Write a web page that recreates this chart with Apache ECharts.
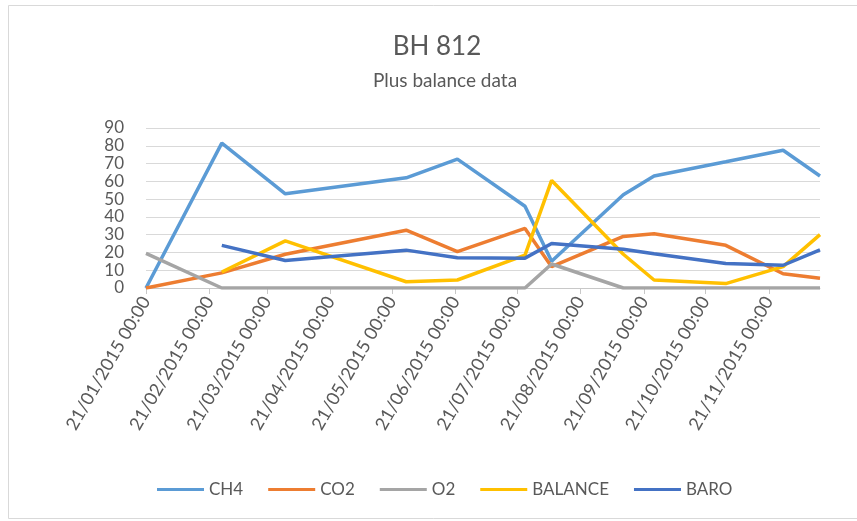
<!DOCTYPE html>
<html><head><meta charset="utf-8">
<script src="https://cdn.jsdelivr.net/npm/echarts@6/dist/echarts.min.js"></script>
<style>html,body{margin:0;padding:0;background:#fff}#c{width:857px;height:521px}</style>
</head><body><div id="c"></div>
<script>
const tickLabels = ['21/01/2015 00:00','21/02/2015 00:00','21/03/2015 00:00','21/04/2015 00:00','21/05/2015 00:00','21/06/2015 00:00','21/07/2015 00:00','21/08/2015 00:00','21/09/2015 00:00','21/10/2015 00:00','21/11/2015 00:00'];
const dates = ['2015-01-21','2015-02-27','2015-03-30','2015-05-28','2015-06-22','2015-07-25','2015-08-07','2015-09-11','2015-09-26','2015-10-31','2015-11-28','2015-12-16'];
const ch4 = [0, 81.5, 53, 62, 72.5, 46, 15, 52.5, 63, 71, 77.5, 63];
const co2 = [0, 8.5, 19, 32.5, 20.5, 33.5, 12, 29, 30.5, 24, 8, 5.5];
const o2 = [19.5, 0, 0, 0, 0, 0, 13.5, 0, 0, 0, 0, 0];
const balance = [null, 9, 26.5, 3.5, 4.5, 18.5, 60.5, 19, 4.5, 2.5, 12, 30];
const baro = [null, 24, 15.5, 21.3, 17, 16.8, 25, 21.8, 19.3, 13.8, 12.8, 21.5];
const seriesNames = ['CH4','CO2','O2','BALANCE','BARO'];
const yMin = 0, yMax = 90, yStep = 10;

const DAY = 86400000;
function isoTime(s){const p=s.split('-').map(Number);return Date.UTC(p[0],p[1]-1,p[2]);}
function labelTime(s){const d=s.split(' ')[0].split('/').map(Number);return Date.UTC(d[2],d[1]-1,d[0]);}
const t0 = isoTime(dates[0]);
const tickDays = tickLabels.map(s=>Math.round((labelTime(s)-t0)/DAY));
const days = dates.map(s=>Math.round((isoTime(s)-t0)/DAY));
function pts(arr){return days.map((d,i)=>[d,arr[i]]);}

const colors = ['#5B9BD5','#ED7D31','#A5A5A5','#FFC000','#4472C4'];
const values = [ch4, co2, o2, balance, baro];
const font = 'Lato, "Open Sans", sans-serif';

const chart = echarts.init(document.getElementById('c'), null, {renderer:'canvas'});
chart.setOption({
  animation:false,
  backgroundColor:'#fff',
  color: colors,
  graphic:[
    {type:'rect', shape:{x:8.5,y:5.5,width:880,height:513}, style:{fill:'none',stroke:'#d9d9d9',lineWidth:1}, silent:true},
    {type:'text', x:437, y:47, style:{text:'BH 812', textAlign:'center', textVerticalAlign:'middle', fill:'#595959', font:'26px '+font}},
    {type:'text', x:445, y:81, style:{text:'Plus balance data', textAlign:'center', textVerticalAlign:'middle', fill:'#595959', font:'19px '+font}}
  ],
  grid:{left:146, right:37, top:128, bottom:233},
  legend:{
    data:seriesNames, left:152, top:476, icon:'rect', itemWidth:47, itemHeight:3, itemGap:25,
    textStyle:{color:'#595959', fontSize:17, fontFamily:font}
  },
  xAxis:{
    type:'value', min:days[0], max:days[days.length-1],
    axisLine:{lineStyle:{color:'#c8c8c8', width:1}},
    axisTick:{show:true, customValues:tickDays, length:6, lineStyle:{color:'#c8c8c8'}},
    splitLine:{show:false},
    axisLabel:{
      customValues:tickDays, rotate:60, margin:10, fontSize:18, color:'#595959', fontFamily:font, hideOverlap:false,
      formatter:function(v){const i=tickDays.indexOf(v);return i>=0?tickLabels[i]:'';}
    }
  },
  yAxis:{
    type:'value', min:yMin, max:yMax, interval:yStep,
    axisLine:{show:false}, axisTick:{show:false},
    axisLabel:{fontSize:17, color:'#595959', fontFamily:font, margin:22},
    splitLine:{lineStyle:{color:'#d9d9d9', width:1}}
  },
  series: seriesNames.map((n,i)=>({
    name:n, type:'line', data:pts(values[i]), symbol:'none', showSymbol:false,
    lineStyle:{width:3.5, color:colors[i]}, itemStyle:{color:colors[i]}, z:2+i
  }))
});
</script></body></html>
